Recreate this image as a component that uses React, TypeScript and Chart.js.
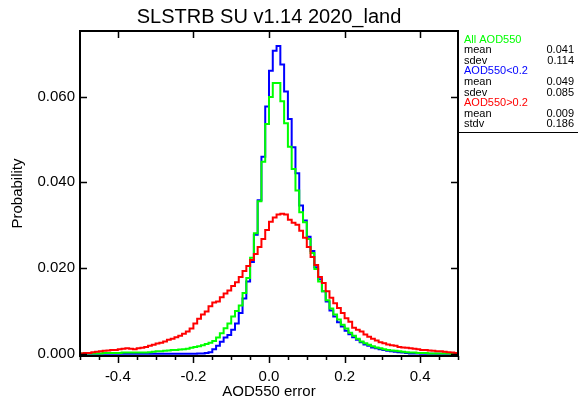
import React, { useEffect, useRef } from 'react';
import { Chart, registerables } from 'chart.js';

Chart.register(...registerables);

const FONT = '"Liberation Sans", Arial, Helvetica, sans-serif';

const TITLE = 'SLSTRB SU v1.14 2020_land';
const X_LABEL = 'AOD550 error';
const Y_LABEL = 'Probability';

// histogram bins: left edge of first bin and bin width
const BIN_START = -0.5;
const BIN_WIDTH = 0.01;

const X_TICKS = [-0.4, -0.2, 0.0, 0.2, 0.4];
const X_MINOR_TICKS = [-0.5, -0.45, -0.35, -0.3, -0.25, -0.15, -0.1, -0.05, 0.05, 0.1, 0.15, 0.25, 0.3, 0.35, 0.45, 0.5];
const Y_TICKS = [0.0, 0.02, 0.04, 0.06];

// All AOD550 (green)
const ALL_AOD = [
  0.0001, 0.0001, 0.0001, 0.0001, 0.0001, 0.0001, 0.0002, 0.0002, 0.0002, 0.0002,
  0.0002, 0.0003, 0.0003, 0.0003, 0.0003, 0.0003, 0.0003, 0.0003, 0.0004, 0.0005,
  0.0006, 0.0006, 0.0007, 0.0008, 0.0009, 0.0009, 0.0010, 0.0011, 0.0012, 0.0014,
  0.0016, 0.0018, 0.0020, 0.0023, 0.0026, 0.0030, 0.0038, 0.0048, 0.0060, 0.0071,
  0.0087, 0.0100, 0.0113, 0.0142, 0.0177, 0.0224, 0.0281, 0.0356, 0.0448, 0.0536,
  0.0599, 0.0632, 0.0632, 0.0589, 0.0538, 0.0483, 0.0431, 0.0381, 0.0330, 0.0307,
  0.0268, 0.0235, 0.0198, 0.0169, 0.0146, 0.0125, 0.0106, 0.0092, 0.0080, 0.0068,
  0.0059, 0.0049, 0.0042, 0.0035, 0.0029, 0.0025, 0.0021, 0.0018, 0.0015, 0.0013,
  0.0011, 0.0009, 0.0008, 0.0007, 0.0006, 0.0005, 0.0004, 0.0003, 0.0003, 0.0002,
  0.0002, 0.0002, 0.0001, 0.0001, 0.0001, 0.0001, 0.0001, 0.0001, 0.0000, 0.0000,
];

// AOD550 < 0.2 (blue)
const LOW_AOD = [
  0.0000, 0.0000, 0.0000, 0.0000, 0.0000, 0.0000, 0.0000, 0.0000, 0.0000, 0.0000,
  0.0000, 0.0000, 0.0000, 0.0000, 0.0000, 0.0000, 0.0000, 0.0000, 0.0000, 0.0000,
  0.0000, 0.0000, 0.0000, 0.0000, 0.0000, 0.0000, 0.0000, 0.0000, 0.0000, 0.0000,
  0.0000, 0.0001, 0.0001, 0.0002, 0.0004, 0.0011, 0.0019, 0.0028, 0.0038, 0.0044,
  0.0056, 0.0071, 0.0095, 0.0129, 0.0169, 0.0214, 0.0278, 0.0358, 0.0460, 0.0577,
  0.0660, 0.0707, 0.0718, 0.0675, 0.0612, 0.0548, 0.0482, 0.0421, 0.0346, 0.0311,
  0.0273, 0.0240, 0.0202, 0.0174, 0.0146, 0.0122, 0.0101, 0.0087, 0.0074, 0.0064,
  0.0054, 0.0046, 0.0039, 0.0033, 0.0027, 0.0022, 0.0019, 0.0015, 0.0013, 0.0011,
  0.0009, 0.0007, 0.0006, 0.0005, 0.0004, 0.0003, 0.0002, 0.0001, 0.0001, 0.0001,
  0.0000, 0.0000, 0.0000, 0.0000, 0.0000, 0.0000, 0.0000, 0.0000, 0.0000, 0.0000,
];

// AOD550 > 0.2 (red)
const HIGH_AOD = [
  0.0001, 0.0002, 0.0002, 0.0004, 0.0005, 0.0006, 0.0007, 0.0008, 0.0009, 0.0009,
  0.0011, 0.0012, 0.0013, 0.0012, 0.0011, 0.0013, 0.0014, 0.0016, 0.0019, 0.0021,
  0.0024, 0.0026, 0.0029, 0.0033, 0.0035, 0.0039, 0.0042, 0.0047, 0.0052, 0.0059,
  0.0071, 0.0082, 0.0092, 0.0099, 0.0111, 0.0120, 0.0122, 0.0132, 0.0141, 0.0148,
  0.0158, 0.0167, 0.0179, 0.0193, 0.0205, 0.0219, 0.0233, 0.0249, 0.0268, 0.0289,
  0.0308, 0.0318, 0.0325, 0.0327, 0.0325, 0.0313, 0.0306, 0.0301, 0.0287, 0.0271,
  0.0249, 0.0226, 0.0207, 0.0179, 0.0165, 0.0146, 0.0131, 0.0118, 0.0107, 0.0095,
  0.0083, 0.0075, 0.0061, 0.0056, 0.0052, 0.0045, 0.0040, 0.0035, 0.0031, 0.0027,
  0.0025, 0.0022, 0.0020, 0.0019, 0.0016, 0.0015, 0.0014, 0.0013, 0.0012, 0.0011,
  0.0009, 0.0009, 0.0008, 0.0007, 0.0006, 0.0006, 0.0005, 0.0004, 0.0003, 0.0002,
];

const LEGEND_NAMES = ['All AOD550', 'AOD550<0.2', 'AOD550>0.2'];
const LEGEND_COLORS = ['#00ff00', '#0000ff', '#ff0000'];
const LEGEND_MEANS = [0.041, 0.049, 0.009];
const LEGEND_SPREAD_NAMES = ['sdev', 'sdev', 'stdv'];
const LEGEND_SPREADS = [0.114, 0.085, 0.186];

function toSteps(values: number[]) {
  const pts = values.map((v, i) => ({ x: +(BIN_START + i * BIN_WIDTH).toFixed(3), y: v }));
  pts.push({ x: +(BIN_START + values.length * BIN_WIDTH).toFixed(3), y: values[values.length - 1] });
  return pts;
}

const decorPlugin = {
  id: 'decor',
  afterDatasetsDraw(chart: any) {
    const { ctx, chartArea: a, scales } = chart;
    const xs = scales.x;
    const ys = scales.y;
    ctx.save();
    ctx.strokeStyle = '#000';
    ctx.lineWidth = 2;
    ctx.strokeRect(a.left, a.top, a.right - a.left, a.bottom - a.top);
    ctx.lineWidth = 1.5;
    ctx.beginPath();
    X_TICKS.forEach((v) => {
      const px = Math.round(xs.getPixelForValue(v)) + 0.5;
      ctx.moveTo(px, a.top); ctx.lineTo(px, a.top + 7);
      ctx.moveTo(px, a.bottom); ctx.lineTo(px, a.bottom + 7);
    });
    X_MINOR_TICKS.forEach((v) => {
      const px = Math.round(xs.getPixelForValue(v)) + 0.5;
      ctx.moveTo(px, a.bottom); ctx.lineTo(px, a.bottom + 4);
    });
    Y_TICKS.forEach((v) => {
      const py = Math.round(ys.getPixelForValue(v)) + 0.5;
      ctx.moveTo(a.left, py); ctx.lineTo(a.left + 7, py);
      ctx.moveTo(a.right, py); ctx.lineTo(a.right - 7, py);
    });
    ctx.stroke();
    ctx.restore();
  },
  afterDraw(chart: any) {
    const { ctx, chartArea: a, width } = chart;
    ctx.save();
    ctx.fillStyle = '#000';
    ctx.font = `20px ${FONT}`;
    ctx.textAlign = 'center';
    ctx.textBaseline = 'middle';
    ctx.fillText(TITLE, (a.left + a.right) / 2, 17);

    // statistics box
    ctx.font = `11px ${FONT}`;
    ctx.textBaseline = 'middle';
    const left = a.right + 6;
    const right = width - 4;
    const step = 10.6;
    let y = 39.5;
    LEGEND_NAMES.forEach((name, i) => {
      ctx.textAlign = 'left';
      ctx.fillStyle = LEGEND_COLORS[i];
      ctx.fillText(name, left, y);
      y += step;
      ctx.fillStyle = '#000';
      ctx.fillText('mean', left, y);
      ctx.textAlign = 'right';
      ctx.fillText(LEGEND_MEANS[i].toFixed(3), right, y);
      y += step;
      ctx.textAlign = 'left';
      ctx.fillText(LEGEND_SPREAD_NAMES[i], left, y);
      ctx.textAlign = 'right';
      ctx.fillText(LEGEND_SPREADS[i].toFixed(3), right, y);
      y += step;
    });
    ctx.strokeStyle = '#000';
    ctx.lineWidth = 1;
    ctx.beginPath();
    ctx.moveTo(a.right, 132.5);
    ctx.lineTo(width, 132.5);
    ctx.stroke();
    ctx.restore();
  },
};

export default function App() {
  const ref = useRef<HTMLCanvasElement | null>(null);
  useEffect(() => {
    if (!ref.current) return;
    const mk = (label: string, data: number[], color: string) => ({
      label,
      data: toSteps(data),
      borderColor: color,
      backgroundColor: color,
      borderWidth: 2,
      pointRadius: 0,
      stepped: 'before' as const,
      fill: false,
    });
    const chart = new Chart(ref.current, {
      type: 'line',
      data: {
        datasets: [
          mk(LEGEND_NAMES[2], HIGH_AOD, LEGEND_COLORS[2]),
          mk(LEGEND_NAMES[0], ALL_AOD, LEGEND_COLORS[0]),
          mk(LEGEND_NAMES[1], LOW_AOD, LEGEND_COLORS[1]),
        ],
      },
      options: {
        animation: false,
        responsive: false,
        devicePixelRatio: 1,
        layout: { padding: { top: 31, right: 120, left: 0, bottom: 0 } },
        plugins: { legend: { display: false }, tooltip: { enabled: false }, title: { display: false } },
        scales: {
          x: {
            type: 'linear',
            min: -0.5,
            max: 0.5,
            grid: { display: false, drawTicks: false },
            border: { display: false },
            afterBuildTicks: (s: any) => { s.ticks = X_TICKS.map((v) => ({ value: v })); },
            afterFit: (s: any) => { s.height = 45; },
            ticks: {
              autoSkip: false,
              maxRotation: 0,
              padding: 12,
              color: '#000',
              font: { family: FONT, size: 15 },
              callback: (v: any) => Number(v).toFixed(1),
            },
            title: { display: true, text: X_LABEL, color: '#000', font: { family: FONT, size: 15 }, padding: { top: 0, bottom: 0 } },
          },
          y: {
            type: 'linear',
            min: -0.0005,
            max: 0.0753,
            grid: { display: false, drawTicks: false },
            border: { display: false },
            afterBuildTicks: (s: any) => { s.ticks = Y_TICKS.map((v) => ({ value: v })); },
            afterFit: (s: any) => { s.width = 80; },
            ticks: {
              padding: 5,
              color: '#000',
              font: { family: FONT, size: 15 },
              callback: (v: any) => Number(v).toFixed(3),
            },
            title: { display: true, text: Y_LABEL, color: '#000', font: { family: FONT, size: 15 }, padding: { top: 9, bottom: 0 } },
          },
        },
      },
      plugins: [decorPlugin],
    });
    return () => chart.destroy();
  }, []);
  return (
    <div style={{ position: 'absolute', left: 0, top: 0, width: 578, height: 401, background: '#fff' }}>
      <canvas ref={ref} width={578} height={401} />
    </div>
  );
}
